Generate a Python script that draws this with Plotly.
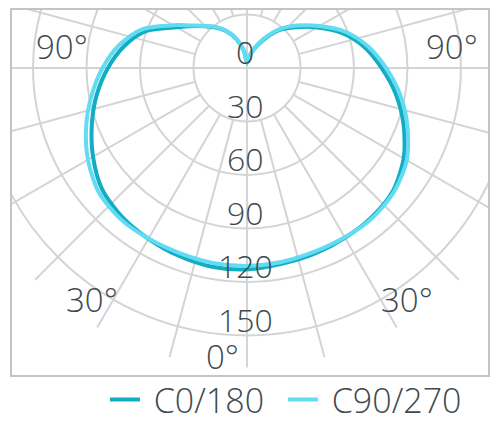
import math
import plotly.graph_objects as go

# ---- data ----
gamma = [0, 10, 20, 30, 40, 50, 60, 70, 80, 90, 100, 110, 120, 130, 140, 150, 160, 170, 180]
c0_right = [113, 111.6, 110.9, 110, 109, 107, 101.5, 93.5, 84.8, 75.5, 67, 57, 45.5, 35.5, 27.5, 18, 11, 6, 2.8]
c180_left = [113, 113.2, 112.1, 110.6, 109.0, 106.0, 99.7, 92.6, 85.5, 78.0, 70.0, 60.4, 45.6, 36.6, 29.9, 24.1, 17.2, 9.7, 2.8]
c90_right = [111, 110.5, 109.8, 109.7, 109.6, 107.8, 103.5, 95.8, 87.3, 78, 69, 59, 47, 37, 28.5, 19, 11.5, 6, 2.8]
c270_left = [111, 111, 110.5, 110.5, 110.5, 108.5, 103, 96, 88.5, 81, 73, 63, 48, 37, 30.5, 24.5, 17.5, 10, 2.8]

ring_values = [30, 60, 90, 120, 150]
ring_labels = ["0", "30", "60", "90", "120", "150"]
label_values = [0, 30, 60, 90, 120, 150]
spoke_step = 15
spoke_outer = 168

series_names = ["C0/180", "C90/270"]
series_colors = ["#12adc3", "#62dcf2"]

TEXT = "#3f4a4f"
GRID = "#d4d4d4"
FONT = "Open Sans"


def polar_curve(left, right):
    xs, ys = [], []
    for g, v in zip(reversed(gamma), reversed(left)):
        a = math.radians(g)
        xs.append(-v * math.sin(a))
        ys.append(-v * math.cos(a))
    for g, v in zip(gamma[1:], right[1:]):
        a = math.radians(g)
        xs.append(v * math.sin(a))
        ys.append(-v * math.cos(a))
    return xs, ys


fig = go.Figure()
for name, color, (l, r) in zip(series_names, series_colors,
                               [(c180_left, c0_right), (c270_left, c90_right)]):
    x, y = polar_curve(l, r)
    fig.add_trace(go.Scatter(x=x, y=y, mode="lines", name="\u00a0" + name,
                             line=dict(color=color, width=4, shape="spline", smoothing=0.8)))

shapes = []
for v in ring_values:
    shapes.append(dict(type="circle", xref="x", yref="y", x0=-v, y0=-v, x1=v, y1=v,
                       line=dict(color=GRID, width=2), layer="below"))
for a in range(0, 360, spoke_step):
    rad = math.radians(a)
    r0 = 0 if a % 90 == 0 else ring_values[0]
    shapes.append(dict(type="line", xref="x", yref="y",
                       x0=r0 * math.sin(rad), y0=-r0 * math.cos(rad),
                       x1=spoke_outer * math.sin(rad), y1=-spoke_outer * math.cos(rad),
                       line=dict(color=GRID, width=2), layer="below"))

annotations = []
for t, v in zip(ring_labels, label_values):
    annotations.append(dict(x=-1, y=-v + 9, text=t, showarrow=False,
                            font=dict(family=FONT, size=32, color=TEXT, weight=300)))
angle_labels = [("90°", -103.7, 11.8), ("90°", 115, 11.8), ("30°", -86.9, -130.1),
                ("30°", 89.7, -130.1), ("0°", -14, -162.1)]
for t, x, y in angle_labels:
    annotations.append(dict(x=x, y=y, text=t, showarrow=False,
                            font=dict(family=FONT, size=33, color=TEXT, weight=300)))

# the page places the figure 8px from the top-left corner
fig.update_layout(
    width=492, height=416,
    margin=dict(l=4, t=2, r=12, b=49, autoexpand=False),
    paper_bgcolor="white", plot_bgcolor="white",
    shapes=shapes, annotations=annotations,
    showlegend=True,
    legend=dict(orientation="h", xref="container", yref="container",
                x=0.197, xanchor="left", y=0.058, yanchor="middle",
                entrywidth=133, entrywidthmode="pixels",
                font=dict(family=FONT, size=34, color=TEXT, weight=300),
                bgcolor="rgba(0,0,0,0)"),
    xaxis=dict(range=[-131.8, 135.2], showgrid=False, zeroline=False, showticklabels=False,
               showline=True, mirror=True, linecolor="#c4c4c4", linewidth=2, fixedrange=True),
    yaxis=dict(range=[-172.2, 32.5], showgrid=False, zeroline=False, showticklabels=False,
               showline=True, mirror=True, linecolor="#c4c4c4", linewidth=2, fixedrange=True),
)

fig.write_html("out.html")
